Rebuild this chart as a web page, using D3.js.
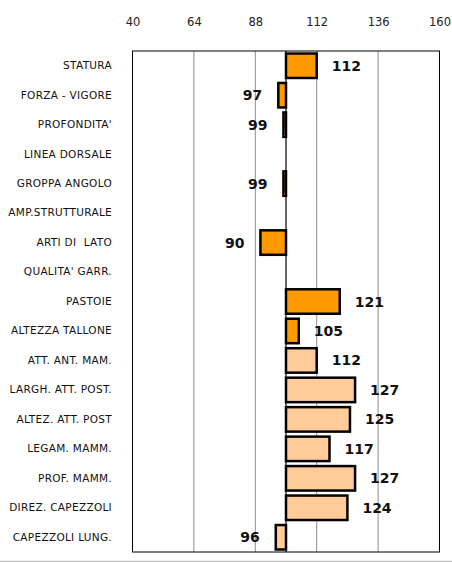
<!DOCTYPE html>
<meta charset="utf-8">
<script src="https://d3js.org/d3.v7.min.js"></script>
<style>
  body { margin: 0; background: #fff; }
</style>
<div id="my_dataviz"></div>
<script>

// categories (top to bottom) and index values; null = no bar
var traits = ["STATURA", "FORZA - VIGORE", "PROFONDITA'", "LINEA DORSALE", "GROPPA ANGOLO",
  "AMP.STRUTTURALE", "ARTI DI  LATO", "QUALITA' GARR.", "PASTOIE", "ALTEZZA TALLONE",
  "ATT. ANT. MAM.", "LARGH. ATT. POST.", "ALTEZ. ATT. POST", "LEGAM. MAMM.", "PROF. MAMM.",
  "DIREZ. CAPEZZOLI", "CAPEZZOLI LUNG."];
var values = [112, 97, 99, null, 99, null, 90, null, 121, 105, 112, 127, 125, 117, 127, 124, 96];
// first group (body) vs second group (udder)
var groups = ["body", "body", "body", "body", "body", "body", "body", "body", "body", "body",
  "udder", "udder", "udder", "udder", "udder", "udder", "udder"];
var tickValues = [40, 64, 88, 112, 136, 160];
var baseValue = 100;

var width = 452, height = 562;
var plot = {left: 132.5, right: 439.5, top: 51, bottom: 552};

var svg = d3.select("#my_dataviz")
  .append("svg")
    .attr("width", width)
    .attr("height", height);

var x = d3.scaleLinear()
  .domain([40, 160])
  .range([plot.left, plot.right]);

var y = d3.scaleBand()
  .domain(traits)
  .range([plot.top, plot.bottom])
  .paddingInner(0.17)
  .paddingOuter(0.085);

var color = d3.scaleOrdinal()
  .domain(["body", "udder"])
  .range(["#ff9900", "#ffcc99"]);

// gridlines
svg.append("g")
  .selectAll("line")
  .data(tickValues.slice(1, -1))
  .enter()
  .append("line")
    .attr("x1", function(d) { return x(d); })
    .attr("x2", function(d) { return x(d); })
    .attr("y1", plot.top)
    .attr("y2", plot.bottom)
    .attr("stroke", "#8c8c8c")
    .attr("stroke-width", 1);

// frame
svg.append("rect")
  .attr("x", plot.left)
  .attr("y", plot.top)
  .attr("width", plot.right - plot.left)
  .attr("height", plot.bottom - plot.top)
  .attr("fill", "none")
  .attr("stroke", "#000")
  .attr("stroke-width", 1);

// top axis labels
svg.append("g")
  .attr("transform", "translate(0,26)")
  .call(d3.axisTop(x).tickValues(tickValues).tickSize(0).tickPadding(0))
  .call(function(g) { g.select(".domain").remove(); })
  .selectAll("text")
    .attr("fill", "#222")
    .style("font-family", "'DejaVu Sans', sans-serif")
    .style("font-size", "11.5px");

// category labels
svg.append("g")
  .attr("transform", "translate(112,0)")
  .call(d3.axisLeft(y).tickSize(0).tickPadding(0))
  .call(function(g) { g.select(".domain").remove(); })
  .selectAll("text")
    .attr("fill", "#111")
    .style("white-space", "pre")
    .style("font-family", "'DejaVu Sans', sans-serif")
    .style("font-size", "10.5px")
    .style("letter-spacing", "0.3px");

var data = traits.map(function(t, i) { return {trait: t, value: values[i], group: groups[i]}; })
  .filter(function(d) { return d.value != null; });

// bars
svg.append("g")
  .selectAll("rect")
  .data(data)
  .enter()
  .append("rect")
    .attr("x", function(d) { return x(Math.min(d.value, baseValue)); })
    .attr("y", function(d) { return y(d.trait); })
    .attr("width", function(d) { return Math.abs(x(d.value) - x(baseValue)); })
    .attr("height", y.bandwidth())
    .attr("fill", function(d) { return color(d.group); })
    .attr("stroke", "#000")
    .attr("stroke-width", 2.5);

// base line at 100
svg.append("line")
  .attr("x1", x(baseValue))
  .attr("x2", x(baseValue))
  .attr("y1", plot.top)
  .attr("y2", plot.bottom)
  .attr("stroke", "#000")
  .attr("stroke-width", 1.2);

// value labels
svg.append("g")
  .selectAll("text")
  .data(data)
  .enter()
  .append("text")
    .attr("x", function(d) { return d.value >= baseValue ? x(d.value) + 15 : x(d.value) - 16; })
    .attr("y", function(d) { return y(d.trait) + y.bandwidth() / 2; })
    .attr("dy", "0.36em")
    .attr("text-anchor", function(d) { return d.value >= baseValue ? "start" : "end"; })
    .style("font-family", "'DejaVu Sans', sans-serif")
    .style("font-weight", "bold")
    .style("font-size", "14px")
    .attr("fill", "#111")
    .text(function(d) { return d.value; });

// bottom separator
svg.append("line")
  .attr("x1", 0)
  .attr("x2", width)
  .attr("y1", 561.5)
  .attr("y2", 561.5)
  .attr("stroke", "#c0c0c0")
  .attr("stroke-width", 1.5);

</script>
